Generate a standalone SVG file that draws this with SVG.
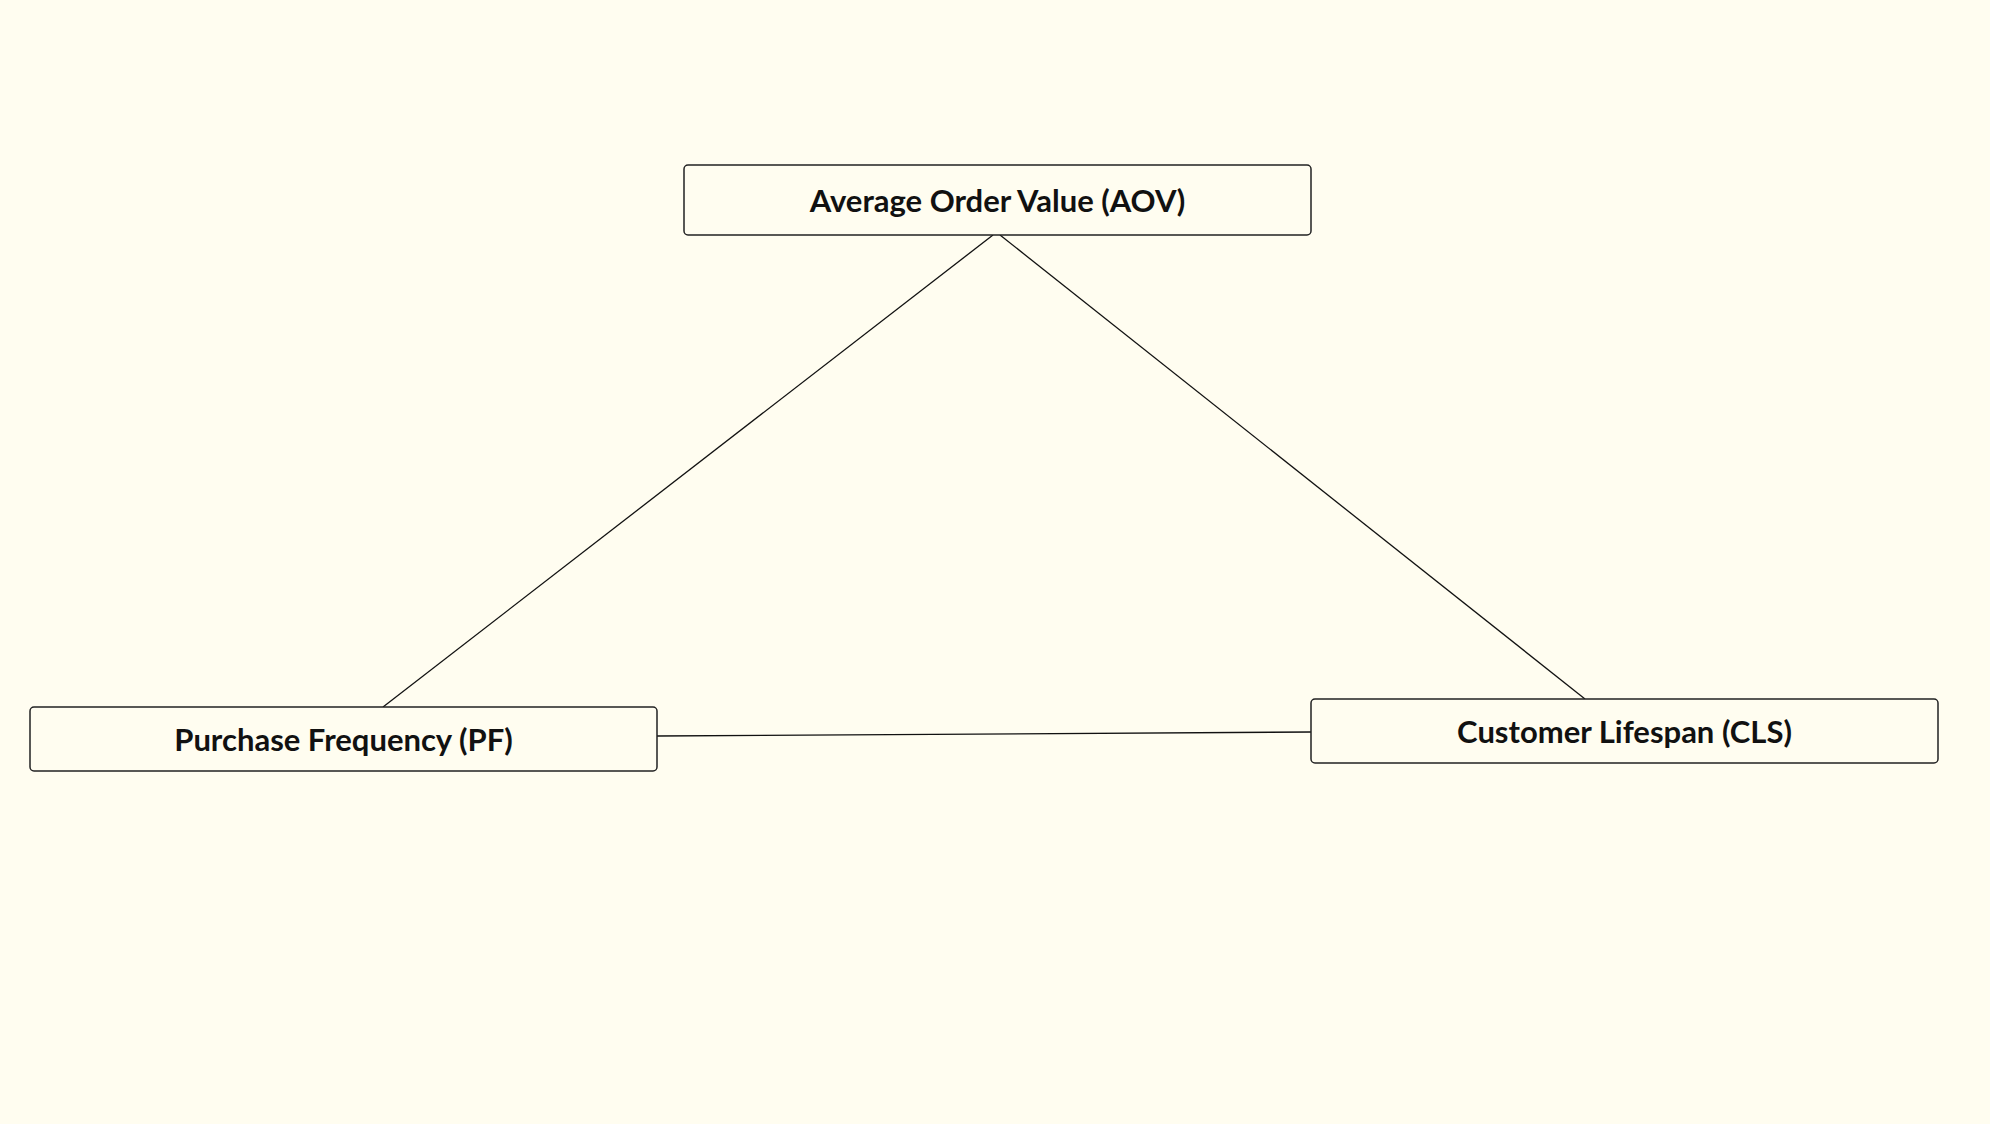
<svg xmlns="http://www.w3.org/2000/svg" width="1990" height="1124" viewBox="0 0 1990 1124">
<style>
.box{fill:#fffdf0;stroke:#222;stroke-width:1.5}
.lbl{font-family:"Lato","Liberation Sans",sans-serif;font-weight:bold;font-size:31px;fill:#111;text-anchor:middle;dominant-baseline:central}
.edge{stroke:#111;stroke-width:1.3;fill:none}
</style>
<rect width="1990" height="1124" fill="#fffdf0"/>
<g id="connectors">
<line class="edge" x1="993" y1="235" x2="383" y2="707"/>
<line class="edge" x1="1000" y1="235" x2="1585" y2="699"/>
<line class="edge" x1="657" y1="736" x2="1311" y2="732"/>
</g>
<g id="aov"><rect class="box" x="684" y="165" width="627" height="70" rx="4"/><text class="lbl" x="997.5" y="200">Average Order Value (AOV)</text></g>
<g id="pf"><rect class="box" x="30" y="707" width="627" height="64" rx="4"/><text class="lbl" x="343.5" y="739">Purchase Frequency (PF)</text></g>
<g id="cls"><rect class="box" x="1311" y="699" width="627" height="64" rx="4"/><text class="lbl" x="1624.5" y="731">Customer Lifespan (CLS)</text></g>
</svg>
